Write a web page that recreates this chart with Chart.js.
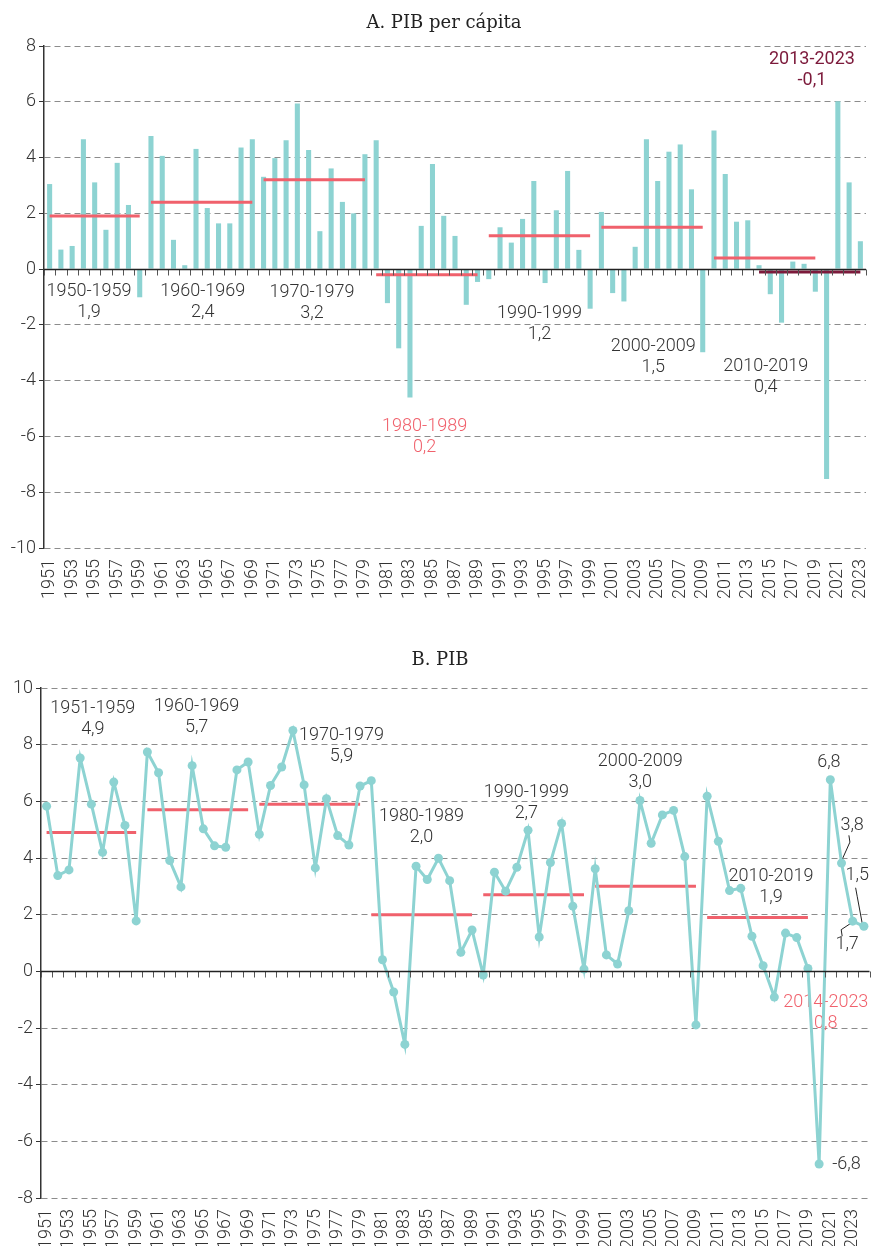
<!DOCTYPE html>
<html lang="es">
<head>
    <meta charset="UTF-8">
    <meta name="viewport" content="width=device-width, initial-scale=1.0">
    <title>PIB per cápita y PIB</title>
    <style>
        body {
    margin: 0;
    padding: 0;
    background-color: #fff;
}

.page {
    position: relative;
    width: 874px;
    height: 1246px;
}

.panel {
    position: absolute;
    left: 0;
    width: 874px;
}

#panelA {
    top: 0;
}

#panelB {
    top: 640px;
}
    </style>
</head>
<body>
    <div class="page">
        <div class="panel" id="panelA">
            <canvas id="chartA" width="874" height="605"></canvas>
        </div>
        <div class="panel" id="panelB">
            <canvas id="chartB" width="874" height="606"></canvas>
        </div>
    </div>
    <script src="https://cdn.jsdelivr.net/npm/chart.js"></script>
    <script>
// Years
const yearsA = [1951, 1952, 1953, 1954, 1955, 1956, 1957, 1958, 1959,
    1960, 1961, 1962, 1963, 1964, 1965, 1966, 1967, 1968, 1969,
    1970, 1971, 1972, 1973, 1974, 1975, 1976, 1977, 1978, 1979,
    1980, 1981, 1982, 1983, 1984, 1985, 1986, 1987, 1988, 1989,
    1990, 1991, 1992, 1993, 1994, 1995, 1996, 1997, 1998, 1999,
    2000, 2001, 2002, 2003, 2004, 2005, 2006, 2007, 2008, 2009,
    2010, 2011, 2012, 2013, 2014, 2015, 2016, 2017, 2018, 2019,
    2020, 2021, 2022, 2023];
const yearsB = yearsA.concat([2024]);

// A. PIB per cápita (% anual)
const pibPerCapita = [3.05, 0.70, 0.83, 4.66, 3.11, 1.41, 3.81, 2.30, -1.01,
    4.77, 4.06, 1.05, 0.14, 4.31, 2.19, 1.64, 1.64, 4.36, 4.66,
    3.31, 3.98, 4.62, 5.94, 4.27, 1.36, 3.61, 2.41, 2.00, 4.12,
    4.62, -1.22, -2.84, -4.60, 1.55, 3.77, 1.91, 1.19, -1.28, -0.46,
    -0.36, 1.50, 0.95, 1.80, 3.16, -0.50, 2.11, 3.52, 0.69, -1.42,
    2.05, -0.86, -1.16, 0.80, 4.66, 3.16, 4.21, 4.47, 2.86, -2.98,
    4.97, 3.41, 1.70, 1.75, 0.14, -0.90, -1.92, 0.27, 0.19, -0.81,
    -7.53, 6.02, 3.11, 1.00];

// B. PIB (% anual)
const pib = [5.83, 3.38, 3.58, 7.53, 5.90, 4.20, 6.68, 5.15, 1.78,
    7.74, 7.01, 3.91, 2.98, 7.26, 5.03, 4.43, 4.38, 7.11, 7.39,
    4.84, 6.56, 7.21, 8.50, 6.58, 3.65, 6.09, 4.79, 4.46, 6.54,
    6.73, 0.41, -0.73, -2.58, 3.71, 3.24, 3.99, 3.20, 0.67, 1.46,
    -0.13, 3.50, 2.83, 3.67, 4.98, 1.21, 3.84, 5.22, 2.30, 0.08,
    3.62, 0.58, 0.26, 2.14, 6.03, 4.52, 5.52, 5.68, 4.05, -1.89,
    6.18, 4.59, 2.85, 2.93, 1.24, 0.20, -0.91, 1.35, 1.19, 0.10,
    -6.80, 6.76, 3.82, 1.77, 1.59];

// decade averages
const avgFromA = [1951, 1960, 1970, 1980, 1990, 2000, 2010];
const avgToA = [1959, 1969, 1979, 1989, 1999, 2009, 2019];
const avgValuesA = [1.9, 2.4, 3.2, -0.2, 1.2, 1.5, 0.4];
const recentFromA = 2014;
const recentToA = 2023;
const recentValueA = -0.1;

const avgFromB = [1951, 1960, 1970, 1980, 1990, 2000, 2010];
const avgToB = [1959, 1969, 1979, 1989, 1999, 2009, 2019];
const avgValuesB = [4.9, 5.7, 5.9, 2.0, 2.7, 3.0, 1.9];

// tick values
const yTicksA = [-10, -8, -6, -4, -2, 0, 2, 4, 6, 8];
const yTicksB = [-8, -6, -4, -2, 0, 2, 4, 6, 8, 10];

const TEAL = '#8dd3d2';
const RED = '#f0616c';
const DARK = '#7c1a3b';
const INK = '#333';
const LIGHT = '300';

function periodLine(years, from, to, value, color) {
    return {
        type: 'line',
        data: years.map(y => (y >= from && y <= to) ? value : null),
        borderColor: color,
        borderWidth: 3,
        pointRadius: 0,
        pointHoverRadius: 0,
        fill: false,
        order: 0
    };
}

// zero line with small ticks between categories
const zeroAxis = {
    id: 'zeroAxis',
    afterDatasetsDraw(chart) {
        const {ctx, chartArea, scales} = chart;
        const y0 = Math.round(scales.y.getPixelForValue(0)) + 0.5;
        const n = chart.data.labels.length;
        ctx.save();
        ctx.strokeStyle = '#555';
        ctx.lineWidth = 1;
        ctx.beginPath();
        for (let i = 0; i <= n; i++) {
            const x = Math.round(scales.x.getPixelForValue(i - 0.5)) + 0.5;
            ctx.moveTo(x, y0);
            ctx.lineTo(x, y0 + 6);
        }
        ctx.stroke();
        ctx.strokeStyle = '#222';
        ctx.lineWidth = 1.5;
        ctx.beginPath();
        ctx.moveTo(chartArea.left, y0);
        ctx.lineTo(chartArea.right, y0);
        ctx.stroke();
        ctx.restore();
    }
};

// titles, period notes and leader lines
const notes = {
    id: 'notes',
    beforeDatasetsDraw(chart, args, opts) {
        const {ctx, scales} = chart;
        const first = opts.firstYear;
        ctx.save();
        ctx.strokeStyle = '#222';
        ctx.lineWidth = 1;
        (opts.leaders || []).forEach(pts => {
            ctx.beginPath();
            pts.forEach(([yr, v], k) => {
                const x = scales.x.getPixelForValue(yr - first);
                const y = scales.y.getPixelForValue(v);
                if (k === 0) ctx.moveTo(x, y); else ctx.lineTo(x, y);
            });
            ctx.stroke();
        });
        ctx.textAlign = 'center';
        ctx.textBaseline = 'middle';
        (opts.items || []).forEach(it => {
            ctx.font = (it.weight || LIGHT) + ' 18px Roboto';
            ctx.fillStyle = it.color || INK;
            const x = scales.x.getPixelForValue(it.year - first);
            const y = scales.y.getPixelForValue(it.value);
            it.lines.forEach((t, k) => ctx.fillText(t, x, y + k * 21));
        });
        ctx.font = '18px "DejaVu Serif"';
        ctx.fillStyle = '#222';
        ctx.textBaseline = 'alphabetic';
        ctx.fillText(opts.title, opts.titleX, opts.titleY);
        ctx.restore();
    }
};

function xTicks(years) {
    return {
        autoSkip: false,
        maxRotation: 90,
        minRotation: 90,
        padding: 3,
        color: INK,
        font: { family: 'Roboto', size: 18, weight: LIGHT },
        callback: (value, index) => years[index] % 2 === 1 ? String(years[index]) : ''
    };
}

function xAxis(years, height) {
    return {
        offset: true,
        grid: { display: false },
        border: { display: false },
        ticks: xTicks(years),
        afterFit: s => {
            s.height = height;
            s.paddingLeft = 0;
            s.paddingRight = 0;
        }
    };
}

function yAxis(ticks, width) {
    return {
        min: ticks[0],
        max: ticks[ticks.length - 1],
        afterBuildTicks: s => { s.ticks = ticks.map(v => ({ value: v })); },
        ticks: { color: INK, padding: 3, font: { family: 'Roboto', size: 18, weight: LIGHT } },
        grid: { color: '#8c8c8c', lineWidth: 1, tickColor: '#333', tickLength: 5 },
        border: { display: true, color: '#333', width: 1.5, dash: [6, 4] },
        afterFit: s => { s.width = width; }
    };
}

// Chart A
const datasetsA = [{
    type: 'bar',
    data: pibPerCapita,
    backgroundColor: TEAL,
    borderWidth: 0,
    barPercentage: 0.45,
    categoryPercentage: 1.0,
    order: 1
}];
avgFromA.forEach((f, k) => datasetsA.push(periodLine(yearsA, f, avgToA[k], avgValuesA[k], RED)));
datasetsA.push(periodLine(yearsA, recentFromA, recentToA, recentValueA, DARK));

new Chart(document.getElementById('chartA'), {
    type: 'bar',
    data: { labels: yearsA.map(String), datasets: datasetsA },
    options: {
        responsive: false,
        animation: false,
        layout: { padding: { top: 46, right: 8, left: 0, bottom: 0 } },
        plugins: {
            legend: { display: false },
            tooltip: { enabled: false },
            notes: {
                firstYear: yearsA[0],
                title: 'A. PIB per cápita',
                titleX: 444,
                titleY: 28,
                items: [
                    { year: 1954.5, value: -0.81, lines: ['1950-1959', '1,9'] },
                    { year: 1964.6, value: -0.81, lines: ['1960-1969', '2,4'] },
                    { year: 1974.3, value: -0.85, lines: ['1970-1979', '3,2'] },
                    { year: 1984.3, value: -5.65, lines: ['1980-1989', '0,2'], color: RED },
                    { year: 1994.5, value: -1.6, lines: ['1990-1999', '1,2'] },
                    { year: 2004.6, value: -2.79, lines: ['2000-2009', '1,5'] },
                    { year: 2014.6, value: -3.5, lines: ['2010-2019', '0,4'] },
                    { year: 2018.7, value: 7.5, lines: ['2013-2023', '-0,1'], color: DARK, weight: '400' }
                ]
            }
        },
        scales: {
            x: xAxis(yearsA, 57),
            y: yAxis(yTicksA, 44)
        }
    },
    plugins: [zeroAxis, notes]
});

// Chart B
const datasetsB = [{
    type: 'line',
    data: pib,
    borderColor: TEAL,
    borderWidth: 3,
    pointRadius: 4.5,
    pointHoverRadius: 4.5,
    pointBackgroundColor: TEAL,
    pointBorderWidth: 0,
    tension: 0,
    fill: false,
    order: 0
}];
avgFromB.forEach((f, k) => {
    const ds = periodLine(yearsB, f, avgToB[k], avgValuesB[k], RED);
    ds.order = 1;
    datasetsB.push(ds);
});

new Chart(document.getElementById('chartB'), {
    type: 'line',
    data: { labels: yearsB.map(String), datasets: datasetsB },
    options: {
        responsive: false,
        animation: false,
        layout: { padding: { top: 48, right: 4, left: 0, bottom: 0 } },
        plugins: {
            legend: { display: false },
            tooltip: { enabled: false },
            notes: {
                firstYear: yearsB[0],
                title: 'B. PIB',
                titleX: 440,
                titleY: 25,
                items: [
                    { year: 1955.13, value: 9.28, lines: ['1951-1959', '4,9'] },
                    { year: 1964.4, value: 9.35, lines: ['1960-1969', '5,7'] },
                    { year: 1977.34, value: 8.33, lines: ['1970-1979', '5,9'] },
                    { year: 1984.48, value: 5.47, lines: ['1980-1989', '2,0'] },
                    { year: 1993.85, value: 6.31, lines: ['1990-1999', '2,7'] },
                    { year: 2004.02, value: 7.41, lines: ['2000-2009', '3,0'] },
                    { year: 2015.7, value: 3.35, lines: ['2010-2019', '1,9'] },
                    { year: 2020.87, value: 7.38, lines: ['6,8'] },
                    { year: 2022.95, value: 5.15, lines: ['3,8'] },
                    { year: 2023.4, value: 3.38, lines: ['1,5'] },
                    { year: 2022.5, value: 0.94, lines: ['1,7'] },
                    { year: 2020.6, value: -1.1, lines: ['2014-2023', '0,8'], color: RED },
                    { year: 2022.44, value: -6.8, lines: ['-6,8'] }
                ],
                leaders: [
                    [[2022.66, 4.80], [2022.75, 4.56], [2022.06, 3.95]],
                    [[2023.26, 2.95], [2023.4, 2.65], [2023.85, 1.69]],
                    [[2022.06, 1.24], [2021.97, 1.47], [2022.81, 1.69]]
                ]
            }
        },
        scales: {
            x: xAxis(yearsB, 48),
            y: yAxis(yTicksB, 41)
        }
    },
    plugins: [zeroAxis, notes]
});
    </script>
</body>
</html>
